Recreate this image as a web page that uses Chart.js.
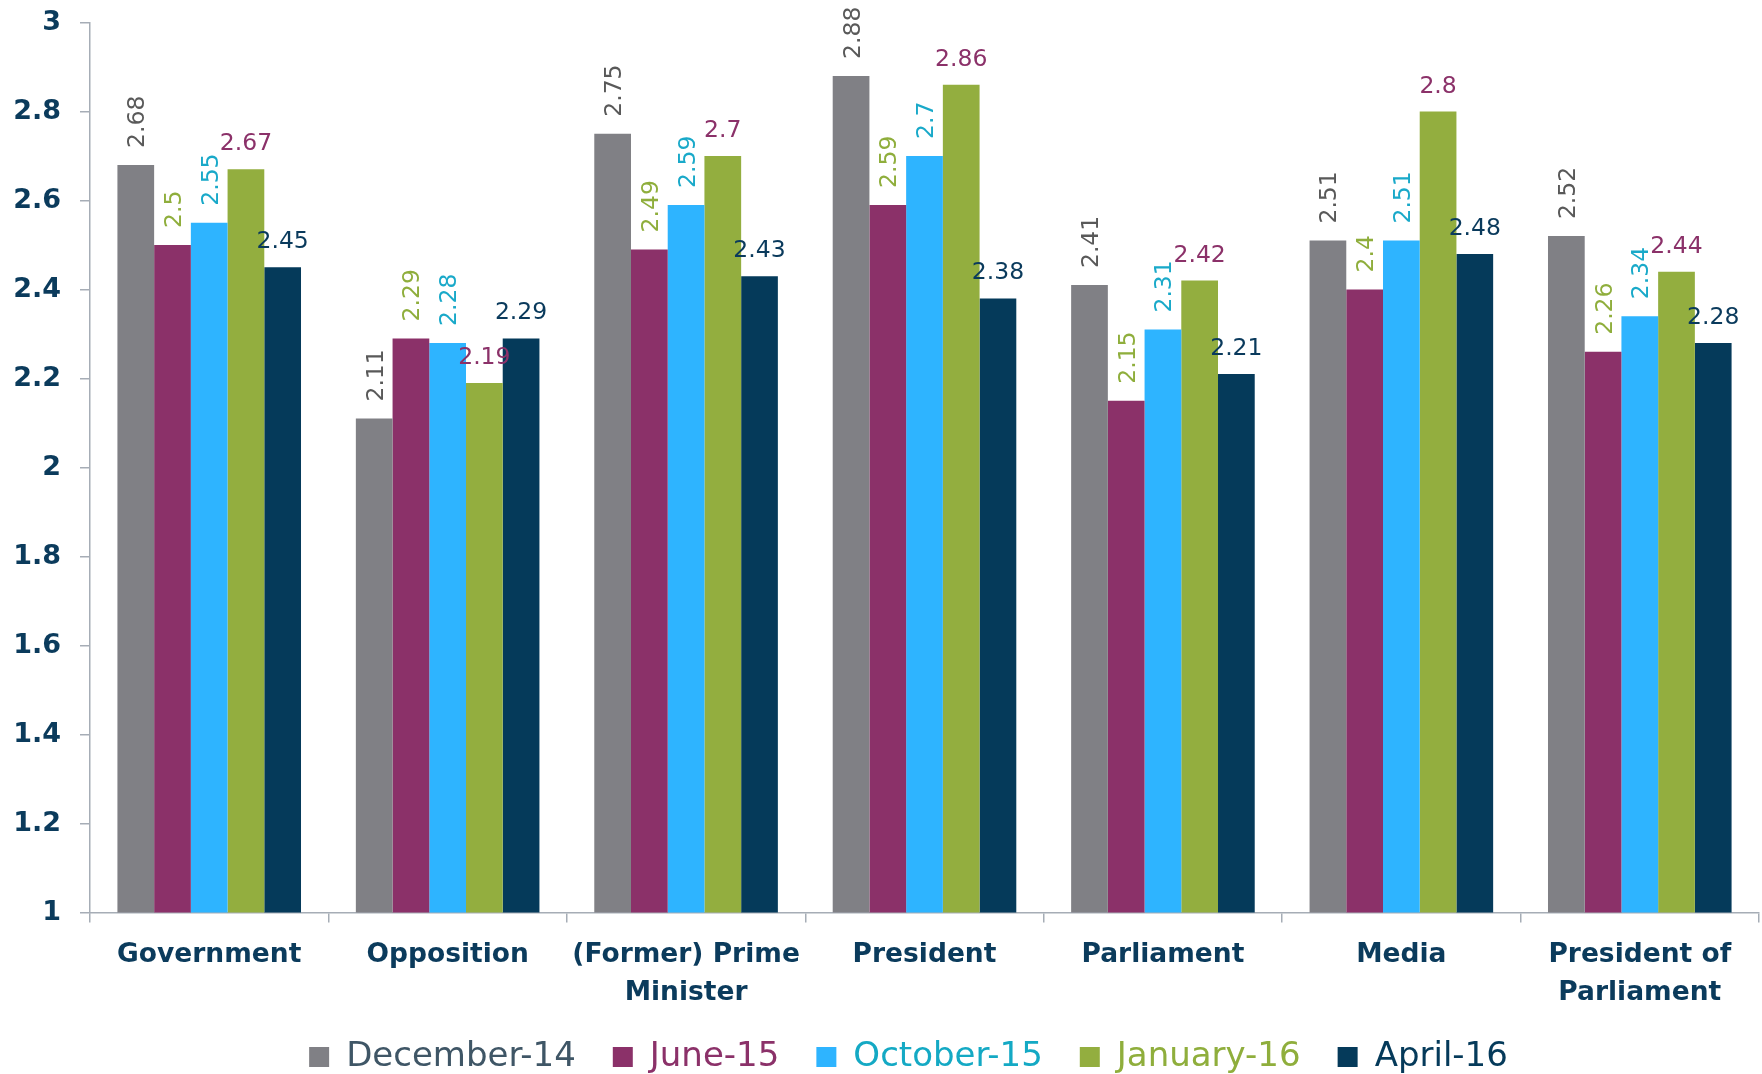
<!DOCTYPE html>
<html>
<head>
<meta charset="utf-8">
<script src="https://cdn.jsdelivr.net/npm/chart.js@4"></script>
<style>
  html, body { margin: 0; padding: 0; background: #ffffff; }
  #wrap { width: 1762px; height: 1074px; position: relative; }
</style>
</head>
<body>
<div id="wrap"><canvas id="c"></canvas></div>
<script>
// ---- data ----
const categories = ["Government", "Opposition", ["(Former) Prime", "Minister"], "President", "Parliament", "Media", ["President of", "Parliament"]];
const seriesNames = ["December-14", "June-15", "October-15", "January-16", "April-16"];
const dec14 = [2.68, 2.11, 2.75, 2.88, 2.41, 2.51, 2.52];
const jun15 = [2.5, 2.29, 2.49, 2.59, 2.15, 2.4, 2.26];
const oct15 = [2.55, 2.28, 2.59, 2.7, 2.31, 2.51, 2.34];
const jan16 = [2.67, 2.19, 2.7, 2.86, 2.42, 2.8, 2.44];
const apr16 = [2.45, 2.29, 2.43, 2.38, 2.21, 2.48, 2.28];
const yMin = 1, yMax = 3, yStep = 0.2;

// ---- styles ----
const barColors = ["#808085", "#8b3169", "#2eb4ff", "#93ae3f", "#053a5a"];
const valueLabelColors = ["#595959", "#8fae3c", "#19a9c9", "#8b3169", "#0a3a5c"];
const valueLabelRotated = [true, true, true, false, false];
const legendTextColors = ["#3f5666", "#8b3169", "#14a9c4", "#8fae3c", "#053a5a"];
const navy = "#0b3b5c";
const axisColor = "#a6adb6";
const FONT = '"DejaVu Sans", sans-serif';

const seriesData = [dec14, jun15, oct15, jan16, apr16];

const valueLabelPlugin = {
  id: "valueLabels",
  afterLayout(chart) {
    // nudge the centred legend slightly left, as in the reference
    if (chart.legend) { chart.legend.left -= 16; chart.legend.right -= 16; }
  },
  afterDatasetsDraw(chart) {
    const ctx = chart.ctx;
    ctx.save();
    ctx.font = '23.5px ' + FONT;
    chart.data.datasets.forEach((ds, i) => {
      const meta = chart.getDatasetMeta(i);
      meta.data.forEach((bar, j) => {
        const txt = String(ds.data[j]);
        ctx.fillStyle = valueLabelColors[i];
        if (valueLabelRotated[i]) {
          ctx.save();
          ctx.translate(bar.x + 8.5, bar.y - 17);
          ctx.rotate(-Math.PI / 2);
          ctx.textAlign = "left";
          ctx.textBaseline = "alphabetic";
          ctx.fillText(txt, 0, 0);
          ctx.restore();
        } else {
          ctx.textAlign = "center";
          ctx.textBaseline = "alphabetic";
          ctx.fillText(txt, bar.x, bar.y - 19);
        }
      });
    });
    ctx.restore();
  }
};

new Chart(document.getElementById("c"), {
  type: "bar",
  data: {
    labels: categories,
    datasets: seriesNames.map((name, i) => ({
      label: name,
      data: seriesData[i],
      backgroundColor: barColors[i],
      borderWidth: 0,
      categoryPercentage: 0.77,
      barPercentage: 1.0
    }))
  },
  options: {
    responsive: true,
    maintainAspectRatio: false,
    devicePixelRatio: 1,
    animation: false,
    layout: { padding: { top: 22.5, right: 3, left: 0, bottom: -10 } },
    plugins: {
      tooltip: { enabled: false },
      legend: {
        position: "bottom",
        fullSize: false,
        labels: {
          boxWidth: 20,
          boxHeight: 20,
          padding: 37,
          font: { family: FONT, size: 34 },
          generateLabels(chart) {
            const items = Chart.defaults.plugins.legend.labels.generateLabels(chart);
            items.forEach((it, i) => { it.fontColor = legendTextColors[i]; it.lineWidth = 0; });
            return items;
          }
        }
      }
    },
    scales: {
      x: {
        grid: { display: true, drawOnChartArea: false, drawTicks: true, tickLength: 10, color: axisColor, lineWidth: 1.5, offset: true },
        border: { display: true, color: axisColor, width: 1.5 },
        ticks: {
          color: navy,
          font: { family: FONT, size: 26.5, weight: "bold", lineHeight: 1.45 },
          padding: 13,
          maxRotation: 0,
          autoSkip: false
        },
        afterFit(s) { s.height = 90.5; s.paddingTop = 0; }
      },
      y: {
        min: yMin,
        max: yMax,
        grid: { display: true, drawOnChartArea: false, drawTicks: true, tickLength: 10, color: axisColor, lineWidth: 1.5 },
        border: { display: true, color: axisColor, width: 1.5 },
        ticks: {
          stepSize: yStep,
          color: navy,
          font: { family: FONT, size: 27, weight: "bold" },
          padding: 19,
          callback: v => String(Math.round(v * 10) / 10)
        },
        afterFit(s) { s.width = 90; s.paddingTop = 0; s.paddingBottom = 0; }
      }
    }
  },
  plugins: [valueLabelPlugin]
});
</script>
</body>
</html>
